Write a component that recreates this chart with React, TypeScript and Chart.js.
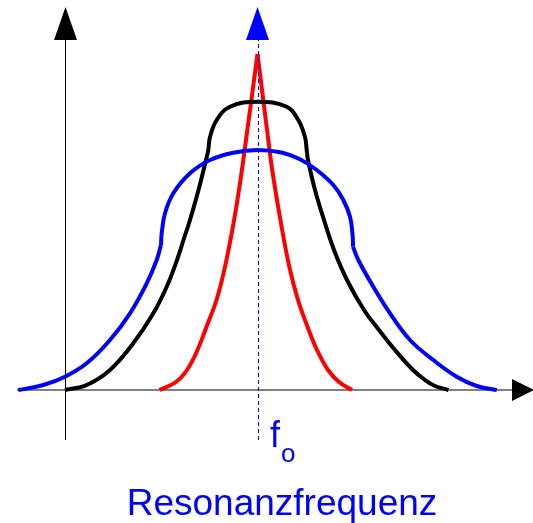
import React, { useEffect, useRef } from "react";
import { Chart, registerables } from "chart.js";

Chart.register(...registerables);

// relative frequency (f - f0) and amplitude, arbitrary units
const blueLowLeftFreq = [-23.92, -21.42, -19.25, -17.08, -14.75, -12.75, -11.08, -10.08, -9.65];
const blueLowLeftAmp = [0, 0.5, 1.33, 2.67, 5.0, 7.67, 10.67, 13.0, 14.5];
const blueArcFreq = [-9.65, -9.58, -9.25, -8.42, -6.75, -4.75, -2.42, 0, 2.4, 4.25, 5.92, 7.58, 8.58, 9.25, 9.52, 9.55];
const blueArcAmp = [14.5, 15.67, 17.67, 19.67, 21.67, 23.0, 23.73, 24.0, 23.75, 23.07, 22.0, 20.5, 19.0, 17.33, 15.33, 14.33];
const blueLowRightFreq = [9.55, 10.08, 11.58, 13.25, 15.25, 17.58, 19.92, 21.92, 23.92];
const blueLowRightAmp = [14.33, 13.0, 10.33, 7.67, 5.0, 3.0, 1.33, 0.4, 0];

const blackFreq = [-19.25, -17.08, -14.75, -12.42, -10.42, -9.08, -8.05, -7.4, -6.75, -5.9, -5.15, -4.92, -4.75, -4.08, -2.75, 0, 2.92, 4.08, 4.75, 4.92, 5.05, 5.75, 6.65, 7.65, 8.95, 10.65, 12.15, 13.75, 15.55, 16.75, 17.75, 19.1];
const blackAmp = [0, 0.5, 2.0, 4.67, 7.67, 10.33, 13.0, 15.0, 17.0, 20.0, 23.0, 24.0, 25.3, 27.0, 28.33, 28.83, 28.33, 27.0, 25.3, 24.0, 23.0, 20.0, 17.0, 14.0, 11.0, 8.0, 6.0, 4.0, 2.0, 1.0, 0.4, 0];

const redLeftFreq = [-9.8, -8.15, -7.05, -6.0, -5.1, -4.1, -3.25, -2.4, -1.75, -1.15, 0];
const redLeftAmp = [0, 0.8, 2.0, 4.0, 6.33, 9.0, 12.33, 16.67, 20.67, 25.0, 33.6];
const redRightFreq = [0, 1.08, 1.52, 2.35, 3.18, 4.05, 5.0, 5.95, 7.05, 8.15, 9.45];
const redRightAmp = [33.6, 25.0, 21.67, 16.67, 12.33, 9.0, 6.33, 4.0, 2.0, 0.8, 0];

const axisFreqRange = [-24.05, 25.45];
const axisAmpRange = [-5.0, 35.0];
const yAxisFreq = -19.2;
const arrowLen = 3.3;

const xLabel = "Resonanzfrequenz";
const fLabel = "f";
const fSub = "o";

const pts = (xs: number[], ys: number[]) => xs.map((x, i) => ({ x, y: ys[i] }));

const decor = {
  id: "decor",
  beforeDatasetsDraw(chart: any) {
    const { ctx, scales } = chart;
    const X = (v: number) => scales.x.getPixelForValue(v);
    const Y = (v: number) => scales.y.getPixelForValue(v);
    ctx.save();
    ctx.strokeStyle = "#808080";
    ctx.lineWidth = 2;
    ctx.beginPath();
    ctx.moveTo(X(axisFreqRange[0]), Y(0));
    ctx.lineTo(X(axisFreqRange[1]), Y(0));
    ctx.stroke();
    ctx.fillStyle = "#000";
    ctx.beginPath();
    ctx.moveTo(X(axisFreqRange[1]), Y(0) - 11);
    ctx.lineTo(X(axisFreqRange[1] + arrowLen * 0.66), Y(0));
    ctx.lineTo(X(axisFreqRange[1]), Y(0) + 11);
    ctx.closePath();
    ctx.fill();
    ctx.strokeStyle = "#000";
    ctx.lineWidth = 1;
    ctx.beginPath();
    ctx.moveTo(X(yAxisFreq), Y(axisAmpRange[0]));
    ctx.lineTo(X(yAxisFreq), Y(axisAmpRange[1]));
    ctx.stroke();
    ctx.beginPath();
    ctx.moveTo(X(yAxisFreq) - 11.5, Y(axisAmpRange[1]));
    ctx.lineTo(X(yAxisFreq), Y(axisAmpRange[1] + arrowLen));
    ctx.lineTo(X(yAxisFreq) + 11.5, Y(axisAmpRange[1]));
    ctx.closePath();
    ctx.fill();
    ctx.fillStyle = "#0000ff";
    ctx.beginPath();
    ctx.moveTo(X(0) - 11.5, Y(axisAmpRange[1]));
    ctx.lineTo(X(0), Y(axisAmpRange[1] + arrowLen));
    ctx.lineTo(X(0) + 11.5, Y(axisAmpRange[1]));
    ctx.closePath();
    ctx.fill();
    ctx.textBaseline = "alphabetic";
    ctx.textAlign = "left";
    ctx.font = "36px 'Liberation Sans', Arial, sans-serif";
    ctx.fillText(fLabel, X(0) + 12.5, 447);
    ctx.font = "26px 'Liberation Sans', Arial, sans-serif";
    ctx.fillText(fSub, X(0) + 23.5, 462);
    ctx.textAlign = "center";
    ctx.font = "37px 'Liberation Sans', Arial, sans-serif";
    ctx.fillText(xLabel, 282, 515);
    ctx.restore();
  },
  afterDatasetsDraw(chart: any) {
    const { ctx, scales } = chart;
    const X = (v: number) => scales.x.getPixelForValue(v);
    const Y = (v: number) => scales.y.getPixelForValue(v);
    ctx.save();
    ctx.strokeStyle = "#0000ff";
    ctx.lineWidth = 1;
    ctx.setLineDash([4, 3]);
    ctx.beginPath();
    ctx.moveTo(Math.round(X(0)) + 0.5, Y(axisAmpRange[0]));
    ctx.lineTo(Math.round(X(0)) + 0.5, Y(axisAmpRange[1]));
    ctx.stroke();
    ctx.restore();
  },
};

export default function App() {
  const ref = useRef<HTMLCanvasElement>(null);
  useEffect(() => {
    if (!ref.current) return;
    const common = {
      showLine: true,
      pointRadius: 0,
      borderWidth: 4,
      tension: 0.4,
      borderJoinStyle: "round" as const,
      fill: false,
    };
    const chart = new Chart(ref.current, {
      type: "scatter",
      data: {
        datasets: [
          { ...common, label: "blue1", data: pts(blueLowLeftFreq, blueLowLeftAmp), borderColor: "#0000ff" },
          { ...common, label: "blue2", data: pts(blueArcFreq, blueArcAmp), borderColor: "#0000ff" },
          { ...common, label: "blue3", data: pts(blueLowRightFreq, blueLowRightAmp), borderColor: "#0000ff" },
          { ...common, label: "black", data: pts(blackFreq, blackAmp), borderColor: "#000000" },
          { ...common, label: "redL", data: pts(redLeftFreq, redLeftAmp), borderColor: "#ff0000" },
          { ...common, label: "redR", data: pts(redRightFreq, redRightAmp), borderColor: "#ff0000" },
        ],
      },
      options: {
        animation: false,
        responsive: false,
        maintainAspectRatio: false,
        layout: { padding: 0 },
        scales: {
          x: { type: "linear", min: -25.75, max: 27.55, display: false },
          y: { type: "linear", min: -13.3, max: 39.0, display: false },
        },
        plugins: { legend: { display: false }, tooltip: { enabled: false } },
      },
      plugins: [decor],
    });
    return () => chart.destroy();
  }, []);
  return (
    <div style={{ position: "absolute", left: 0, top: 0, width: 533, height: 523, background: "#fff" }}>
      <canvas ref={ref} width={533} height={523} />
    </div>
  );
}
